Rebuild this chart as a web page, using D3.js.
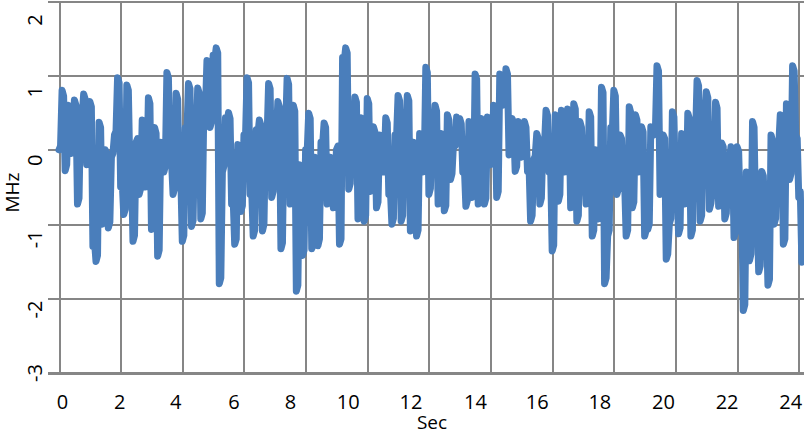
<!DOCTYPE html>
<html>
<head>
<meta charset="utf-8">
<script src="https://cdn.jsdelivr.net/npm/d3@7"></script>
<style>
html,body{margin:0;padding:0;background:#fff;overflow:hidden}
text{font-family:"Open Sans","Noto Sans",sans-serif;fill:#000}
</style>
</head>
<body>
<svg id="chart" width="804" height="435"></svg>
<script>
// ---- data ----
const sampleInterval = 0.05; // seconds between samples
const mhzValues = [
 0.0, 0.05, 0.8, 0.72, -0.28, -0.2, 0.6, 0.52, -0.05, 0.0,
 0.67, 0.6, -0.73, -0.65, 0.5, 0.42, 0.75, 0.68, -0.2, -0.15,
 0.65, 0.58, -1.3, -1.22, -1.5, -1.42, 0.37, 0.3, -1.0, -0.92,
 0.0, -0.05, -1.05, -0.97, -0.1, -0.05, 0.2, 0.25, 0.97, 0.9,
 -0.5, -0.42, -0.87, -0.8, 0.87, 0.8, -0.3, -0.22, -1.23, -1.15,
 0.1, 0.15, -0.6, -0.52, 0.4, 0.33, -0.5, -0.42, 0.7, 0.62,
 -1.07, -1.0, 0.3, 0.22, -1.43, -1.35, 0.1, 0.05, -0.3, -0.22,
 1.04, 0.97, -0.2, -0.15, -0.6, -0.52, 0.76, 0.68, -0.4, -0.32,
 -1.23, -1.15, 0.3, 0.22, 0.89, 0.82, -1.03, -0.95, 0.2, 0.15,
 0.83, 0.76, -0.93, -0.85, 0.6, 0.52, 1.2, 1.12, 0.3, 0.38,
 1.27, 1.2, 1.37, 1.3, -1.8, -1.72, -0.3, -0.22, 0.43, 0.36,
 0.5, 0.42, -0.73, -0.65, -1.27, -1.2, 0.07, 0.0, -0.83, -0.75,
 0.2, 0.15, 0.97, 0.9, -0.6, -0.52, -1.16, -1.08, 0.27, 0.2,
 0.4, 0.33, -1.09, -1.0, 0.2, 0.15, 0.89, 0.82, -0.64, -0.56,
 0.2, 0.15, 0.65, 0.58, -1.33, -1.25, 0.3, 0.22, 0.96, 0.88,
 -0.73, -0.65, 0.6, 0.52, -1.9, -1.82, -0.2, -0.25, -1.42, -1.35,
 0.0, -0.05, 0.49, 0.42, -1.33, -1.25, -0.1, -0.15, -1.29, -1.2,
 0.1, 0.05, 0.36, 0.3, -0.73, -0.65, -0.1, -0.15, -0.78, -0.7,
 0.0, 0.05, -1.27, -1.2, 1.24, 1.17, 1.37, 1.3, -0.53, -0.45,
 0.3, 0.22, 0.71, 0.64, -0.93, -0.85, 0.43, 0.36, -0.96, -0.88,
 0.69, 0.62, -0.56, -0.48, 0.31, 0.24, -0.78, -0.7, 0.2, 0.15,
 -0.3, -0.22, 0.43, 0.36, -0.6, -0.52, -1.0, -0.92, 0.2, 0.15,
 0.73, 0.66, -0.96, -0.88, 0.3, 0.22, 0.73, 0.66, -1.09, -1.0,
 0.1, 0.05, -1.16, -1.08, 0.22, 0.15, -0.3, -0.22, 1.11, 1.04,
 -0.6, -0.52, 0.3, 0.22, 0.6, 0.52, -0.73, -0.65, 0.22, 0.15,
 -0.82, -0.75, 0.47, 0.4, -0.4, -0.32, 0.1, 0.05, 0.44, 0.37,
 0.42, 0.35, -0.3, -0.22, -0.76, -0.68, 0.38, 0.3, -0.64, -0.56,
 1.02, 0.95, -0.73, -0.65, 0.42, 0.35, -0.73, -0.65, 0.44, 0.37,
 -0.2, -0.15, 0.6, 0.52, -0.64, -0.56, 1.02, 0.95, 0.6, 0.68,
 1.09, 1.02, -0.07, 0.0, 0.42, 0.35, -0.29, -0.22, 0.38, 0.3,
 -0.1, -0.05, 0.38, 0.3, -0.29, -0.22, -0.96, -0.88, -0.13, -0.08,
 0.22, 0.15, -0.73, -0.65, 0.1, 0.05, 0.53, 0.46, -0.3, -0.22,
 -1.36, -1.28, 0.47, 0.4, -0.69, -0.6, 0.53, 0.46, -0.3, -0.22,
 0.55, 0.48, -0.78, -0.7, 0.62, 0.55, -0.96, -0.88, 0.38, 0.3,
 -0.3, -0.22, -0.73, -0.65, 0.51, 0.44, -1.16, -1.08, 0.0, -0.05,
 -0.93, -0.85, 0.84, 0.77, -1.8, -1.72, -1.16, -1.08, 0.3, 0.22,
 0.8, 0.72, -0.6, -0.52, 0.2, 0.15, -0.5, -0.42, -1.16, -1.08,
 0.58, 0.5, -0.78, -0.7, 0.47, 0.4, -0.3, -0.22, 0.31, 0.24,
 -1.16, -1.08, -1.07, -1.0, 0.31, 0.24, 0.2, 0.28, 1.13, 1.06,
 -0.6, -0.52, 0.2, 0.15, -1.47, -1.4, -1.0, -0.92, 0.51, 0.44,
 -0.5, -0.42, -1.13, -1.05, 0.22, 0.15, -0.73, -0.65, 0.49, 0.42,
 -1.16, -1.08, 0.2, 0.15, 0.93, 0.86, -0.96, -0.88, 0.5, 0.43,
 0.78, 0.7, -0.8, -0.72, -0.53, -0.45, 0.64, 0.56, -0.76, -0.68,
 0.09, 0.04, -0.93, -0.85, -0.2, -0.15, 0.04, 0.0, -1.18, -1.1,
 0.04, -0.02, -0.8, -0.72, -2.16, -2.08, -0.3, -0.35, -1.49, -1.4,
 0.38, 0.3, -0.9, -0.82, -1.64, -1.56, -0.29, -0.35, -1.0, -0.92,
 -1.82, -1.74, 0.2, 0.12, -1.0, -0.92, 0.1, 0.05, 0.47, 0.4,
 -1.27, -1.2, 0.62, 0.55, -0.4, -0.32, 1.13, 1.06, 0.2, 0.15,
 -0.64, -0.56, -1.51, -1.45
];
const xTickValues = [0, 2, 4, 6, 8, 10, 12, 14, 16, 18, 20, 22, 24];
const yTickValues = [-3, -2, -1, 0, 1, 2];
const xTitle = "Sec";
const yTitle = "MHz";

// ---- layout / style ----
const W = 804, H = 435;
const plotLeft = 59, plotRight = 804, plotTop = 1, plotBottom = 373;
const gridColor = "#868686";
const lineColor = "#4a7ebb";
// label nudges (px) to mimic the reference's label placement
const xLabelNudge = [3, -1.5, -7, -10.5, -15.5, -19.5, -18.5, -15.5, -15.5, -14.5, -12.5, -10.5, -8.5];
const yLabelNudge = {"-3": 0, "-2": 11, "-1": 15, "0": 10.5, "1": 16.5, "2": 19};

const samples = mhzValues.map((v, i) => ({sec: i * sampleInterval, mhz: v}));

const x = d3.scaleLinear().domain([0, 24.17]).range([plotLeft, plotRight]);
const y = d3.scaleLinear().domain([-3, 2]).range([plotBottom, plotTop]);

const svg = d3.select("#chart");
svg.append("rect").attr("width", W).attr("height", H).attr("fill", "#fff");

// vertical grid
const vGrid = svg.append("g")
  .attr("transform", `translate(0,${plotBottom})`)
  .call(d3.axisBottom(x).tickValues(xTickValues).tickSize(-(plotBottom - plotTop)).tickFormat(""));
vGrid.select(".domain").remove();
vGrid.selectAll("line").attr("stroke", gridColor).attr("stroke-width", 2)
  .attr("shape-rendering", "crispEdges");

// horizontal grid + outward ticks
const hGrid = svg.append("g")
  .attr("transform", `translate(${plotLeft},0)`)
  .call(d3.axisLeft(y).tickValues(yTickValues).tickSizeInner(-(plotRight - plotLeft)).tickSizeOuter(0).tickFormat(""));
hGrid.select(".domain").remove();
hGrid.selectAll("line").attr("x1", -11).attr("stroke", gridColor).attr("stroke-width", 2)
  .attr("shape-rendering", "crispEdges");
hGrid.selectAll(".tick").filter(d => d === -3).select("line").attr("stroke-width", 3);

// x labels
const xAxis = svg.append("g")
  .attr("transform", `translate(0,${plotBottom})`)
  .call(d3.axisBottom(x).tickValues(xTickValues).tickSize(0).tickPadding(0).tickFormat(d => String(d)));
xAxis.select(".domain").remove();
xAxis.selectAll("text")
  .attr("font-size", 20)
  .attr("font-family", "Open Sans")
  .attr("fill", "#000")
  .attr("dy", null)
  .attr("y", 36)
  .attr("x", (d, i) => xLabelNudge[i]);

// y labels (rotated)
const yAxis = svg.append("g")
  .call(d3.axisLeft(y).tickValues(yTickValues).tickSize(0).tickFormat(d => String(d)));
yAxis.select(".domain").remove();
yAxis.selectAll(".tick").attr("transform", null);
yAxis.selectAll("text")
  .attr("font-size", 20)
  .attr("font-family", "Open Sans")
  .attr("fill", "#000")
  .attr("x", null).attr("dy", null)
  .attr("text-anchor", "middle")
  .attr("dominant-baseline", "central")
  .attr("transform", d => `translate(34.5,${y(d) + yLabelNudge[String(d)]}) rotate(-90)`);

// series line
svg.append("path")
  .datum(samples)
  .attr("fill", "none")
  .attr("stroke", lineColor)
  .attr("stroke-width", 7)
  .attr("stroke-linejoin", "round")
  .attr("stroke-linecap", "round")
  .attr("d", d3.line().x(d => x(d.sec)).y(d => y(d.mhz)));

// axis titles
svg.append("text")
  .attr("x", 432).attr("y", 429)
  .attr("text-anchor", "middle")
  .attr("font-size", 19)
  .text(xTitle);
svg.append("text")
  .attr("transform", "translate(19,192.5) rotate(-90)")
  .attr("text-anchor", "middle")
  .attr("font-size", 19)
  .text(yTitle);
</script>
</body>
</html>
